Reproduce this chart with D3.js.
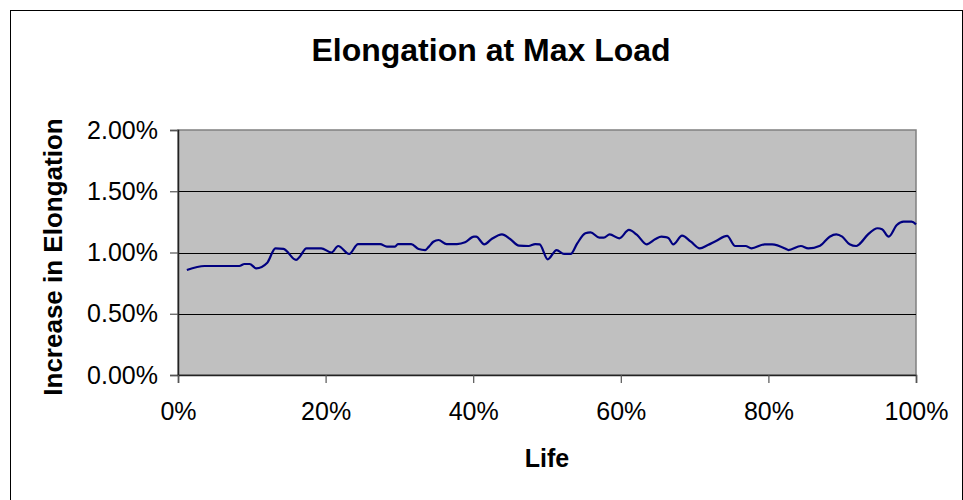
<!DOCTYPE html>
<html><head><meta charset="utf-8">
<script src="https://cdn.jsdelivr.net/npm/d3@7/dist/d3.min.js"></script>
<style>body{margin:0;background:#fff}svg{display:block}text{font-family:Arial,"Liberation Sans",sans-serif}</style>
</head><body>
<svg id="c" width="963" height="500"></svg>
<script>
const title = "Elongation at Max Load";
const xTitle = "Life";
const yTitle = "Increase in Elongation";
const xTicks = [0, 0.2, 0.4, 0.6, 0.8, 1.0];
const yTicks = [0, 0.005, 0.01, 0.015, 0.02];
// life fraction (x) and elongation increase (y)
const life = [0.012,0.036,0.083,0.090,0.097,0.106,0.121,0.132,0.143,0.160,0.165,0.174,0.194,0.208,0.217,0.232,0.244,0.274,0.283,0.294,0.298,0.316,0.326,0.335,0.340,0.346,0.353,0.364,0.378,0.389,0.401,0.404,0.415,0.425,0.439,0.450,0.462,0.475,0.484,0.490,0.501,0.513,0.523,0.532,0.541,0.552,0.559,0.571,0.577,0.585,0.598,0.611,0.622,0.635,0.647,0.655,0.661,0.665,0.671,0.683,0.695,0.707,0.718,0.729,0.744,0.755,0.769,0.777,0.795,0.805,0.824,0.827,0.844,0.854,0.870,0.883,0.892,0.900,0.910,0.919,0.923,0.935,0.948,0.954,0.963,0.974,0.983,0.994,1.000];
const elong = [0.00857,0.0089,0.0089,0.00906,0.00906,0.00871,0.00917,0.01034,0.01029,0.00939,0.00966,0.01034,0.01034,0.0100,0.01053,0.00988,0.01069,0.01069,0.01048,0.01048,0.01069,0.01069,0.01029,0.0102,0.01048,0.01088,0.01102,0.01069,0.01069,0.01083,0.01129,0.01129,0.01067,0.0111,0.01148,0.0111,0.01056,0.01053,0.01069,0.01067,0.00944,0.0102,0.00988,0.00988,0.01075,0.01157,0.01165,0.01121,0.01121,0.01148,0.01116,0.01184,0.01143,0.01067,0.0111,0.01129,0.01126,0.01116,0.01067,0.01137,0.01088,0.01034,0.01061,0.01094,0.01135,0.01053,0.01053,0.01034,0.01067,0.01067,0.01029,0.0102,0.01053,0.01034,0.01056,0.01129,0.01148,0.01129,0.01067,0.01053,0.01067,0.01148,0.01198,0.01190,0.01129,0.01224,0.01252,0.01252,0.0123];

const svg = d3.select("#c");
const L = 178, R = 916, T = 130, B = 375;
const x = d3.scaleLinear().domain([0, 1]).range([L, R]);
const y = d3.scaleLinear().domain([0, 0.02]).range([B, T]);

svg.append("rect").attr("x", 10.5).attr("y", 10.5).attr("width", 952).attr("height", 500)
  .attr("fill", "#fff").attr("stroke", "#000").attr("stroke-width", 1);

svg.append("rect").attr("x", L).attr("y", T).attr("width", R - L).attr("height", B - T)
  .attr("fill", "#c0c0c0").attr("stroke", "#808080").attr("stroke-width", 1.5);

// gridlines
svg.append("g").selectAll("line").data(yTicks.filter(d => d > 0 && d < 0.02)).join("line")
  .attr("x1", L).attr("x2", R).attr("y1", d => Math.round(y(d)) + 0.5).attr("y2", d => Math.round(y(d)) + 0.5)
  .attr("stroke", "#000").attr("stroke-width", 1);

// axes
const yAxis = d3.axisLeft(y).tickValues(yTicks).tickFormat(d3.format(".2%")).tickSize(8).tickPadding(12);
const gy = svg.append("g").attr("transform", `translate(${L},0)`).call(yAxis);
const xAxis = d3.axisBottom(x).tickValues(xTicks).tickFormat(d3.format(".0%")).tickSize(8).tickPadding(19);
const gx = svg.append("g").attr("transform", `translate(0,${B})`).call(xAxis);
[gx, gy].forEach(g => {
  g.select(".domain").attr("stroke", "#222").attr("stroke-width", 1.5);
  g.selectAll(".tick line").attr("stroke", "#555").attr("stroke-width", 1.2);
  g.selectAll(".tick text").attr("font-size", 25).attr("fill", "#000")
    .attr("font-family", "Arial, 'Liberation Sans', sans-serif");
});

// line
const pts = life.map((v, i) => [v, elong[i]]);
svg.append("path").datum(pts)
  .attr("d", d3.line().x(d => x(d[0])).y(d => y(d[1])).curve(d3.curveMonotoneX))
  .attr("fill", "none").attr("stroke", "#000080").attr("stroke-width", 2.2);

// titles
svg.append("text").attr("x", 491).attr("y", 61).attr("text-anchor", "middle")
  .attr("font-size", 32).attr("font-weight", "bold").text(title);
svg.append("text").attr("x", 547).attr("y", 467).attr("text-anchor", "middle")
  .attr("font-size", 25).attr("font-weight", "bold").text(xTitle);
svg.append("text").attr("transform", "translate(62,257) rotate(-90)").attr("text-anchor", "middle")
  .attr("font-size", 26).attr("font-weight", "bold").text(yTitle);
</script>
</body></html>
